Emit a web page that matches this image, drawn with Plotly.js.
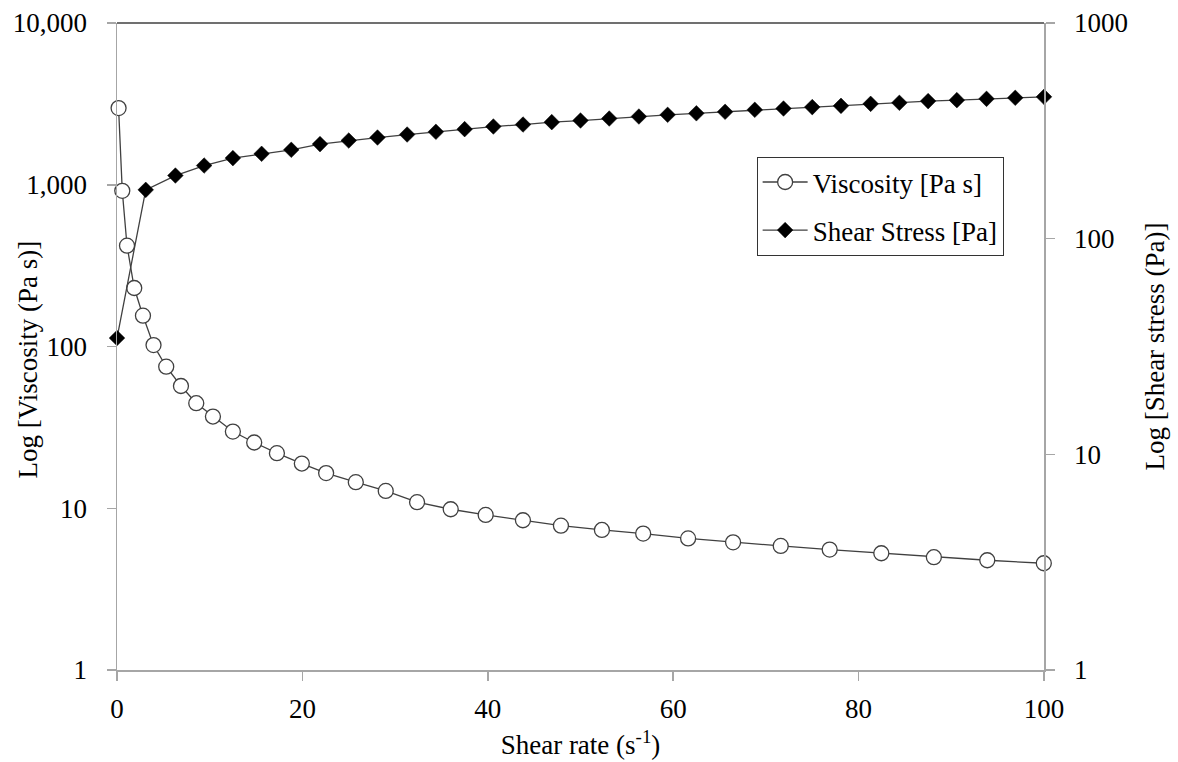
<!DOCTYPE html>
<html>
<head>
<meta charset="utf-8">
<script src="https://cdn.plot.ly/plotly-3.0.1.min.js"></script>
<style>
html,body{margin:0;padding:0;background:#fff;}
#chart{width:1178px;height:762px;}
</style>
</head>
<body>
<div id="chart"></div>
<script>
// Viscosity series (left axis)
const viscRate = [0.17, 0.57, 1.08, 1.86, 2.80, 3.94, 5.31, 6.90, 8.55, 10.35, 12.50, 14.80, 17.25, 19.94, 22.56, 25.76, 28.99, 32.37, 36.00, 39.77, 43.79, 47.89, 52.31, 56.76, 61.61, 66.46, 71.60, 76.88, 82.45, 88.12, 93.88, 99.98];
const viscosity = [2980, 917, 420, 230, 155, 102, 75, 57, 44.6, 36.9, 29.8, 25.5, 21.9, 18.9, 16.5, 14.5, 12.8, 10.9, 9.86, 9.09, 8.43, 7.80, 7.34, 6.97, 6.51, 6.16, 5.85, 5.55, 5.27, 4.98, 4.77, 4.57];

// Shear stress series (right axis)
const stressRate = [0, 3.1, 6.3, 9.4, 12.5, 15.6, 18.8, 21.9, 25, 28.1, 31.3, 34.4, 37.5, 40.6, 43.8, 46.9, 50, 53.1, 56.3, 59.4, 62.5, 65.6, 68.8, 71.9, 75, 78.1, 81.3, 84.4, 87.5, 90.6, 93.8, 96.9, 100];
const shearStress = [34.6, 168.4, 196.2, 218.3, 236.3, 247.4, 258.2, 274.4, 285.1, 294.4, 304.0, 312.9, 322.0, 331.1, 338.2, 347.0, 353.0, 360.6, 368.4, 375.2, 381.3, 387.4, 395.8, 401.3, 407.4, 413.0, 421.9, 426.5, 434.3, 438.9, 445.0, 449.9, 454.7];

// Tick labels
const xTicks = [0, 20, 40, 60, 80, 100];
const yLeftTicks = [1, 10, 100, 1000, 10000];
const yLeftLabels = ["1", "10", "100", "1,000", "10,000"];
const yRightTicks = [1, 10, 100, 1000];
const yRightLabels = ["1", "10", "100", "1000"];

const FONT = 'Liberation Serif';
const AXIS_GRAY = '#a6a6a6';
const LINE_DARK = '#404040';

const traces = [
  {
    x: viscRate, y: viscosity, name: 'Viscosity [Pa s]',
    type: 'scatter', mode: 'lines+markers', yaxis: 'y', legendgroup: 'a',
    line: {color: LINE_DARK, width: 1.3},
    marker: {symbol: 'circle', size: 15, color: '#ffffff', line: {color: LINE_DARK, width: 1.3}},
    cliponaxis: false
  },
  {
    x: stressRate, y: shearStress, name: 'Shear Stress [Pa]',
    type: 'scatter', mode: 'lines+markers', yaxis: 'y2', legendgroup: 'b',
    line: {color: LINE_DARK, width: 1.3},
    marker: {symbol: 'diamond', size: 12, color: '#000000', line: {color: '#000000', width: 0.5}},
    cliponaxis: false
  }
];

const layout = {
  width: 1178, height: 762,
  margin: {l: 117, r: 134, t: 23, b: 92, pad: 0},
  paper_bgcolor: '#ffffff', plot_bgcolor: '#ffffff',
  font: {family: FONT, size: 27, color: '#000000'},
  showlegend: true,
  legend: {
    x: 0.69, y: 0.793, xanchor: 'left', yanchor: 'top',
    bgcolor: '#ffffff', bordercolor: '#333333', borderwidth: 1,
    font: {family: FONT, size: 27, color: '#000000'},
    traceorder: 'grouped', tracegroupgap: 10, itemwidth: 45
  },
  xaxis: {
    range: [0, 100], tickvals: xTicks, ticktext: xTicks.map(String),
    showgrid: false, zeroline: false,
    showline: true, linecolor: AXIS_GRAY, linewidth: 1.5,
    ticks: 'outside', ticklen: 9, tickcolor: AXIS_GRAY, tickwidth: 1.5,
    ticklabelstandoff: 5,
    tickfont: {family: FONT, size: 27, color: '#000000'},
    title: {text: 'Shear rate (s<sup>-1</sup>)', font: {family: FONT, size: 27, color: '#000000'}, standoff: 12}
  },
  yaxis: {
    type: 'log', range: [0, 4],
    tickvals: yLeftTicks, ticktext: yLeftLabels,
    showgrid: false, zeroline: false,
    showline: true, linecolor: AXIS_GRAY, linewidth: 1.5,
    ticks: 'outside', ticklen: 9, tickcolor: AXIS_GRAY, tickwidth: 1.5,
    ticklabelstandoff: 14,
    tickfont: {family: FONT, size: 27, color: '#000000'}
  },
  yaxis2: {
    type: 'log', range: [0, 3], overlaying: 'y', side: 'right',
    tickvals: yRightTicks, ticktext: yRightLabels,
    showgrid: false, zeroline: false,
    showline: true, linecolor: AXIS_GRAY, linewidth: 1.5,
    ticks: 'outside', ticklen: 9, tickcolor: AXIS_GRAY, tickwidth: 1.5,
    ticklabelstandoff: 14,
    tickfont: {family: FONT, size: 27, color: '#000000'},
    title: {text: 'Log [Shear stress (Pa)]', font: {family: FONT, size: 27, color: '#000000'}, standoff: 18}
  },
  shapes: [
    {type: 'line', xref: 'paper', yref: 'paper', x0: 0, x1: 1, y0: 1, y1: 1,
     line: {color: LINE_DARK, width: 1.5}}
  ],
  annotations: [
    {text: 'Log [Viscosity (Pa s)]', xref: 'paper', yref: 'paper',
     x: -0.096, y: 0.48, textangle: -90, showarrow: false,
     xanchor: 'center', yanchor: 'middle',
     font: {family: FONT, size: 27, color: '#000000'}}
  ]
};

function forceSerif() {
  document.querySelectorAll('#chart svg text, #chart svg tspan').forEach(function (el) {
    el.style.setProperty('font-family', "'Liberation Serif', serif", 'important');
    el.setAttribute('font-family', 'Liberation Serif');
  });
}

Plotly.newPlot('chart', traces, layout, {staticPlot: true}).then(forceSerif);
forceSerif();
</script>
</body>
</html>
